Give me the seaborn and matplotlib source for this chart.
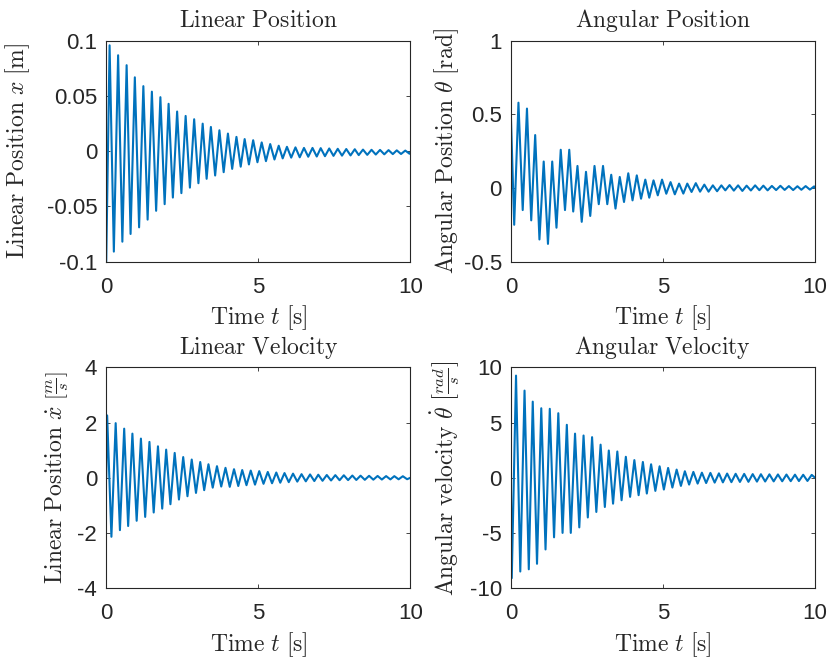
import numpy as np
import seaborn as sns
import matplotlib.pyplot as plt

sns.set_theme(style="ticks")
plt.rcParams['font.family'] = ['Liberation Sans', 'DejaVu Sans']
plt.rcParams['mathtext.fontset'] = 'cm'
plt.rcParams['axes.unicode_minus'] = False

# times of the extrema (s)
t_pos = [0, 0.11, 0.25, 0.39, 0.53, 0.67, 0.80, 0.94, 1.08, 1.22, 1.36, 1.50, 1.64,
         1.78, 1.92, 2.05, 2.19, 2.33, 2.47, 2.61, 2.75, 2.89, 3.03, 3.17, 3.30,
         3.44, 3.58, 3.72, 3.86, 4.00, 4.14, 4.28, 4.42, 4.55, 4.69, 4.83, 4.97,
         5.11, 5.25, 5.39, 5.53, 5.67, 5.80, 5.94, 6.08, 6.22, 6.36, 6.50, 6.64,
         6.78, 6.92, 7.05, 7.19, 7.33, 7.47, 7.61, 7.75, 7.89, 8.03, 8.17, 8.30,
         8.44, 8.58, 8.72, 8.86, 9.00, 9.14, 9.28, 9.42, 9.55, 9.69, 9.83, 9.97, 10.0]
t_vel = [0, 0.03, 0.17, 0.31, 0.45, 0.59, 0.72, 0.86, 1.00, 1.14, 1.28, 1.42, 1.56,
         1.70, 1.84, 1.97, 2.11, 2.25, 2.39, 2.53, 2.67, 2.81, 2.95, 3.09, 3.22,
         3.36, 3.50, 3.64, 3.78, 3.92, 4.06, 4.20, 4.34, 4.47, 4.61, 4.75, 4.89,
         5.03, 5.17, 5.31, 5.45, 5.59, 5.72, 5.86, 6.00, 6.14, 6.28, 6.42, 6.56,
         6.70, 6.84, 6.97, 7.11, 7.25, 7.39, 7.53, 7.67, 7.81, 7.95, 8.09, 8.22,
         8.36, 8.50, 8.64, 8.78, 8.92, 9.06, 9.20, 9.34, 9.47, 9.61, 9.75, 9.89, 10.0]

# linear position x [m]
x_pos = [-0.100, 0.096, -0.091, 0.087, -0.082, 0.078, -0.075, 0.067, -0.069, 0.059,
         -0.062, 0.054, -0.054, 0.049, -0.048, 0.043, -0.042, 0.036, -0.038, 0.032,
         -0.033, 0.029, -0.029, 0.025, -0.025, 0.022, -0.022, 0.019, -0.019, 0.016,
         -0.016, 0.013, -0.014, 0.011, -0.012, 0.010, -0.010, 0.008, -0.009, 0.0065,
         -0.0075, 0.005, -0.0065, 0.004, -0.0058, 0.0035, -0.0055, 0.003, -0.005, 0.003,
         -0.0048, 0.0028, -0.0045, 0.0025, -0.0042, 0.0022, -0.004, 0.002, -0.0038, 0.0018,
         -0.0035, 0.0015, -0.0033, 0.0013, -0.003, 0.0012, -0.0028, 0.001, -0.0026, 0.0008,
         -0.0025, 0.0006, -0.0023, -0.001]

# angular position theta [rad]
theta = [0.50, -0.25, 0.58, -0.15, 0.54, -0.22, 0.36, -0.35, 0.18, -0.38,
         0.18, -0.27, 0.26, -0.15, 0.26, -0.16, 0.15, -0.23, 0.11, -0.19,
         0.15, -0.11, 0.15, -0.11, 0.09, -0.14, 0.075, -0.095, 0.10, -0.084,
         0.086, -0.073, 0.057, -0.066, 0.052, -0.05, 0.057, -0.039, 0.04, -0.043,
         0.03, -0.038, 0.03, -0.027, 0.033, -0.025, 0.023, -0.025, 0.018, -0.022,
         0.018, -0.016, 0.02, -0.018, 0.018, -0.02, 0.016, -0.017, 0.018, -0.015,
         0.016, -0.016, 0.014, -0.014, 0.015, -0.013, 0.013, -0.014, 0.012, -0.012,
         0.013, -0.011, 0.011, 0.0]

# linear velocity x_dot [m/s]
x_vel = [0.0, 2.26, -2.14, 1.98, -1.90, 1.78, -1.75, 1.60, -1.56, 1.42,
         -1.42, 1.30, -1.26, 1.14, -1.12, 1.02, -0.96, 0.90, -0.79, 0.75,
         -0.67, 0.66, -0.55, 0.57, -0.45, 0.49, -0.36, 0.42, -0.32, 0.36,
         -0.33, 0.31, -0.30, 0.28, -0.27, 0.26, -0.25, 0.24, -0.22, 0.21,
         -0.20, 0.19, -0.18, 0.17, -0.16, 0.15, -0.14, 0.13, -0.13, 0.12,
         -0.12, 0.11, -0.11, 0.10, -0.10, 0.095, -0.09, 0.09, -0.085, 0.08,
         -0.08, 0.075, -0.075, 0.07, -0.07, 0.065, -0.065, 0.06, -0.06, 0.058,
         -0.056, 0.055, -0.053, 0.0]

# angular velocity theta_dot [rad/s]
theta_vel = [0.0, -9.1, 9.26, -8.5, 7.9, -8.3, 6.9, -7.8, 6.3, -6.5,
             6.25, -5.4, 5.85, -5.0, 4.8, -5.0, 4.0, -4.5, 3.83, -3.6,
             3.68, -3.1, 3.0, -2.65, 2.47, -2.35, 2.38, -2.04, 1.9, -1.73,
             1.6, -1.58, 1.43, -1.43, 1.22, -1.19, 1.04, -1.07, 0.89, -0.89,
             0.74, -0.74, 0.59, -0.62, 0.53, -0.53, 0.46, -0.48, 0.44, -0.44,
             0.40, -0.42, 0.38, -0.40, 0.36, -0.38, 0.35, -0.37, 0.33, -0.35,
             0.32, -0.34, 0.31, -0.33, 0.30, -0.32, 0.29, -0.31, 0.28, -0.30,
             0.27, -0.29, 0.26, 0.0]

panels = [
    (t_pos, x_pos, r'$\mathrm{Linear\ Position}$',
     r'$\mathrm{Linear\ Position}\ x\ [\mathrm{m}]$', (-0.1, 0.1), [-0.1, -0.05, 0, 0.05, 0.1], -0.245),
    (t_pos, theta, r'$\mathrm{Angular\ Position}$',
     r'$\mathrm{Angular\ Position}\ \theta\ [\mathrm{rad}]$', (-0.5, 1), [-0.5, 0, 0.5, 1], -0.165),
    (t_vel, x_vel, r'$\mathrm{Linear\ Velocity}$',
     r'$\mathrm{Linear\ Position}\ \dot{x}\ \left[\frac{m}{s}\right]$', (-4, 4), [-4, -2, 0, 2, 4], -0.115),
    (t_vel, theta_vel, r'$\mathrm{Angular\ Velocity}$',
     r'$\mathrm{Angular\ velocity}\ \dot{\theta}\ \left[\frac{rad}{s}\right]$', (-10, 10), [-10, -5, 0, 5, 10], -0.16),
]

fig, axes = plt.subplots(2, 2, figsize=(8.3, 6.6), dpi=100)
fig.subplots_adjust(left=0.128, right=0.982, top=0.938, bottom=0.109, wspace=0.33, hspace=0.48)

for ax, (t, y, title, ylabel, ylim, yticks, ylab_x) in zip(axes.flat, panels):
    sns.lineplot(x=t, y=y, ax=ax, color='#0072BD', linewidth=1.5)
    ax.lines[-1].set_solid_joinstyle('round')
    ax.set_xlim(0, 10)
    ax.set_ylim(*ylim)
    ax.set_xticks([0, 5, 10])
    ax.set_yticks(yticks)
    ax.set_yticklabels([f'{v:g}' for v in yticks])
    ax.set_title(title, fontsize=17, pad=10)
    ax.set_xlabel(r'$\mathrm{Time}\ t\ [\mathrm{s}]$', fontsize=17, labelpad=4)
    ax.set_ylabel(ylabel, fontsize=17)
    ax.yaxis.set_label_coords(ylab_x, 0.5)
    ax.tick_params(direction='in', length=3, width=0.6, top=True, right=True,
                   labelsize=16, colors='#262626')
    ax.tick_params(axis='x', pad=11)
    ax.tick_params(axis='y', pad=6.5)
    for s in ax.spines.values():
        s.set_visible(True)
        s.set_color('#262626')
        s.set_linewidth(0.8)

fig.savefig('out.png')
